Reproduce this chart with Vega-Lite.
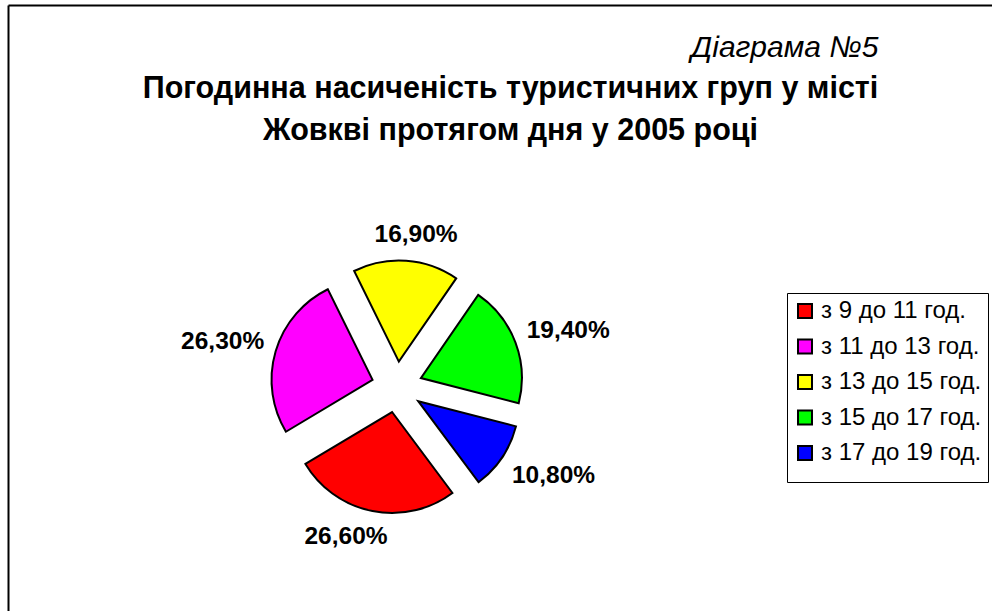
{
  "$schema": "https://vega.github.io/schema/vega-lite/v6.json",
  "width": 984,
  "height": 606,
  "autosize": {"type": "none"},
  "padding": {"left": 8, "top": 5, "right": 0, "bottom": 0},
  "background": "white",
  "config": {
    "view": {"stroke": null},
    "font": "Liberation Sans"
  },
  "data": {
    "values": [
      {"k": "з 9 до 11 год.", "v": 26.6, "i": 1, "lab": "26,60%"},
      {"k": "з 11 до 13 год.", "v": 26.3, "i": 2, "lab": "26,30%"},
      {"k": "з 13 до 15 год.", "v": 16.9, "i": 3, "lab": "16,90%"},
      {"k": "з 15 до 17 год.", "v": 19.4, "i": 4, "lab": "19,40%"},
      {"k": "з 17 до 19 год.", "v": 10.8, "i": 5, "lab": "10,80%"}
    ]
  },
  "transform": [
    {"stack": "v", "groupby": [], "sort": [{"field": "i"}], "as": ["v0", "v1"]},
    {"calculate": "2.501 + (datum.v0 + datum.v1) * PI / 100", "as": "m"},
    {"calculate": "sin(datum.m)", "as": "ex"},
    {"calculate": "cos(datum.m)", "as": "ey"},
    {"calculate": "113 * datum.ex + 41.5 * clamp(3 * datum.ex, -1, 1)", "as": "vx"},
    {"calculate": "-113 * datum.ey + 14 * clamp(-1.5 * datum.ey, -1, 1)", "as": "vy"},
    {"calculate": "datum.ex + datum.vx / 25.5", "as": "lx"},
    {"calculate": "datum.ey - datum.vy / 25.5", "as": "ly"}
  ],
  "layer": [
    {
      "mark": {"type": "arc", "outerRadius": 101, "stroke": "black", "strokeWidth": 2, "strokeJoin": "miter"},
      "encoding": {
        "x": {
          "field": "ex", "type": "quantitative",
          "scale": {"domain": [-15.255, 23.333], "nice": false, "zero": false},
          "axis": {
            "orient": "top", "domain": true, "domainColor": "black", "domainWidth": 2,
            "ticks": false, "labels": false, "grid": false,
            "title": ["Погодинна насиченість туристичних груп у місті", "Жовкві протягом дня у 2005 році"],
            "titleX": 502, "titleY": 92, "titleAlign": "center", "titleBaseline": "alphabetic",
            "titleFont": "Liberation Sans", "titleFontSize": 30.5, "titleFontWeight": "bold",
            "titleColor": "black", "titleLineHeight": 42
          }
        },
        "y": {
          "field": "ey", "type": "quantitative",
          "scale": {"domain": [-8.784, 14.98], "nice": false, "zero": false},
          "axis": {
            "orient": "left", "domain": true, "domainColor": "black", "domainWidth": 2,
            "ticks": false, "labels": false, "grid": false,
            "title": "Діаграма №5", "titleAngle": 0,
            "titleX": 870, "titleY": 51, "titleAlign": "right", "titleBaseline": "alphabetic",
            "titleFont": "Liberation Sans", "titleFontSize": 30, "titleFontWeight": "normal",
            "titleFontStyle": "italic", "titleColor": "black"
          }
        },
        "theta": {"field": "v0", "type": "quantitative", "scale": {"domain": [0, 100], "range": [2.501, 8.7842]}},
        "theta2": {"field": "v1"},
        "color": {
          "field": "k", "type": "nominal", "sort": null,
          "scale": {
            "domain": ["з 9 до 11 год.", "з 11 до 13 год.", "з 13 до 15 год.", "з 15 до 17 год.", "з 17 до 19 год."],
            "range": ["#FF0000", "#FF00FF", "#FFFF00", "#00FF00", "#0000FF"]
          },
          "legend": {
            "orient": "none", "legendX": 779, "legendY": 288,
            "title": " ", "titleOrient": "bottom", "titleFontSize": 8, "titlePadding": 3,
            "strokeColor": "black", "fillColor": "white", "padding": 6, "cornerRadius": 0,
            "symbolType": "square", "symbolSize": 196, "symbolStrokeColor": "black", "symbolStrokeWidth": 2,
            "symbolOpacity": 1,
            "labelFont": "Liberation Sans", "labelFontSize": 24, "labelColor": "black", "labelOffset": 4,
            "rowPadding": 11.5, "labelLimit": 400
          }
        }
      }
    },
    {
      "mark": {"type": "text", "fontSize": 24.5, "fontWeight": "bold", "font": "Liberation Sans", "color": "black", "align": "center", "baseline": "middle"},
      "encoding": {
        "x": {"field": "lx", "type": "quantitative"},
        "y": {"field": "ly", "type": "quantitative"},
        "text": {"field": "lab"}
      }
    }
  ]
}
